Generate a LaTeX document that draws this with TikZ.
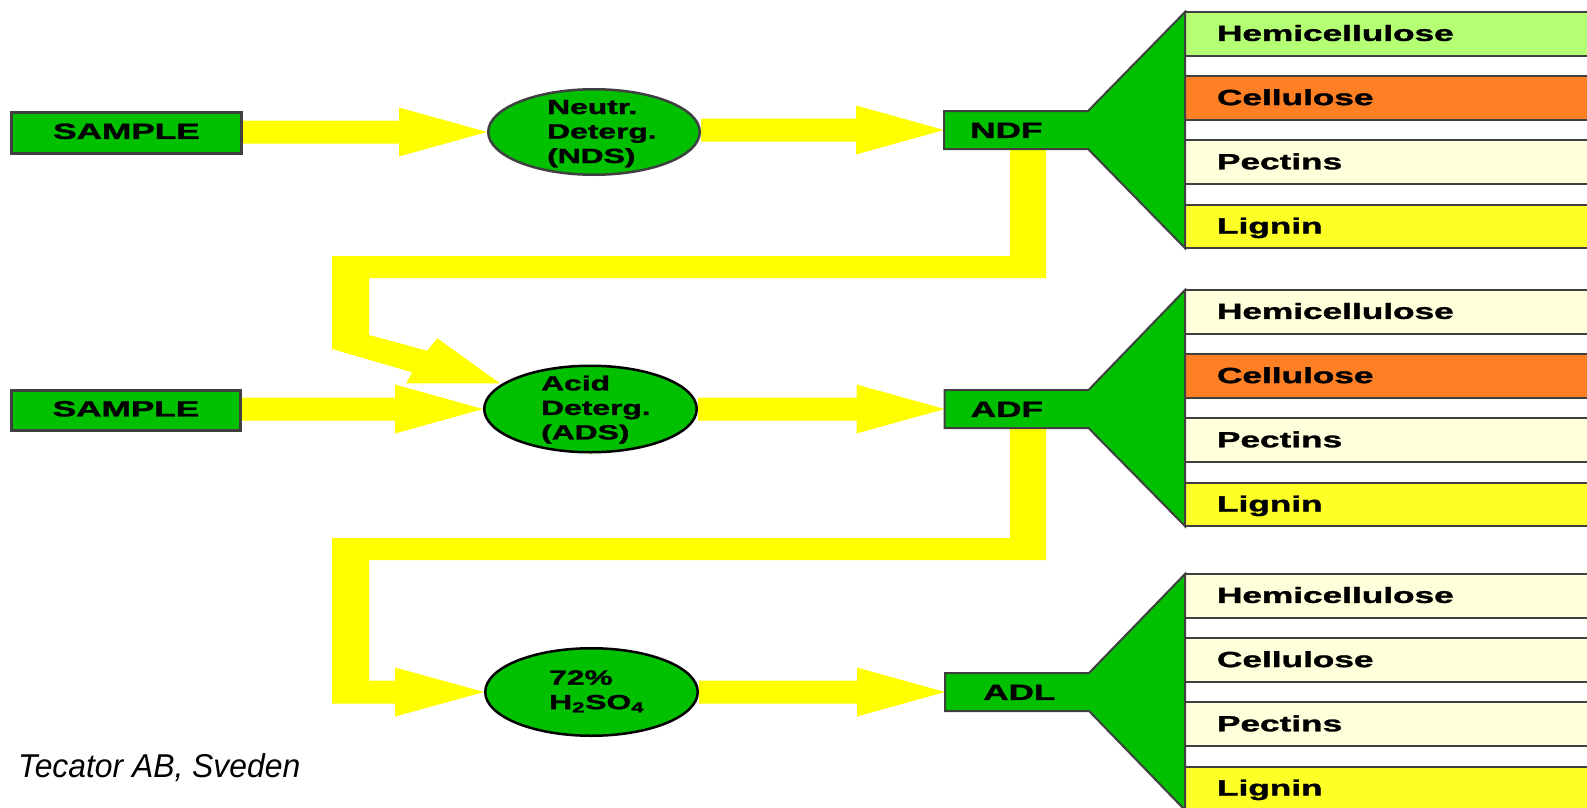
\documentclass[tikz,border=0pt]{standalone}
\usepackage{fontspec}
\setmainfont[BoldFeatures={FakeBold=1.2}]{Liberation Sans}
\usepackage{graphicx}
\usetikzlibrary{calc,shapes.geometric}

\definecolor{boxgreen}{RGB}{0,192,0}
\definecolor{flowyellow}{RGB}{255,255,0}
\definecolor{edgegray}{RGB}{64,64,64}
\definecolor{hemigreen}{RGB}{180,255,116}
\definecolor{cellorange}{RGB}{255,127,36}
\definecolor{paleyellow}{RGB}{255,255,220}
\definecolor{ligninyellow}{RGB}{255,255,40}

\pgfdeclarelayer{paper}
\pgfdeclarelayer{flow}
\pgfsetlayers{paper,flow,main}

% wide bold lettering used on boxes and bars
\newcommand{\lbl}[1]{\scalebox{1.6}[1]{#1}}
% left-aligned multi-line text inside the ovals
\newcommand{\etxt}[1]{\scalebox{1.55}[1]{\begin{tabular}{@{}l@{}}#1\end{tabular}}}
% horizontal block arrow from #1 to the tip #2
\newcommand{\flowarrow}[2]{%
  \fill[flow] let \p1=(#1), \p2=(#2) in
    (\x1,{\y2+11.5pt}) -- ({\x2-88pt},{\y2+11.5pt}) -- ({\x2-88pt},{\y2+24.5pt})
    -- (\x2,\y2) -- ({\x2-88pt},{\y2-24.5pt}) -- ({\x2-88pt},{\y2-11.5pt})
    -- (\x1,{\y2-11.5pt}) -- cycle;}

\tikzset{
  flow/.style={fill=flowyellow},
  greenbox/.style={rectangle, fill=boxgreen, draw=edgegray, line width=3pt,
    inner sep=0pt, font=\bfseries\fontsize{22}{26}\selectfont,
    text height=15.8pt, text depth=4pt},
  greenoval/.style={ellipse, fill=boxgreen, line width=2.5pt, inner sep=0pt},
  ovaltext/.style={anchor=west, inner sep=0pt,
    font=\bfseries\fontsize{20.5}{24.5}\selectfont},
  fraction/.style={rectangle, draw=edgegray, line width=2pt, outer sep=0pt,
    anchor=north west, minimum height=43.5pt, text width=380pt,
    inner xsep=32pt, inner ysep=0pt, align=left,
    font=\bfseries\fontsize{22}{26}\selectfont,
    text height=15.8pt, text depth=1.5pt},
  funnel/.style={fill=boxgreen, draw=edgegray, line width=2pt, line join=miter},
  hub/.style={rectangle, minimum width=144pt, minimum height=38pt,
    inner sep=0pt, outer sep=0pt},
  hublabel/.style={anchor=west, inner sep=0pt,
    font=\bfseries\fontsize{22}{26}\selectfont,
    text height=15.8pt, text depth=0pt},
}

\begin{document}
\begin{tikzpicture}[x=1pt,y=-1pt]
\path[use as bounding box] (0,0) rectangle (1587,807);
\clip (0,0) rectangle (1587,807);
\begin{pgfonlayer}{paper}
  \fill[white] (0,0) rectangle (1587,807);
\end{pgfonlayer}

% ---- input boxes and ovals
\node[greenbox, minimum width=230pt, minimum height=41pt] (s1) at (126.5,133) {\lbl{SAMPLE}};
\node[greenbox, minimum width=229pt, minimum height=40pt] (s2) at (126,410.5) {\lbl{SAMPLE}};

\node[greenoval, draw=edgegray, minimum width=211.5pt, minimum height=85.5pt] (e1) at (594,132) {};
\node[greenoval, draw=black, minimum width=212.5pt, minimum height=86.5pt] (e2) at (590.5,409) {};
\node[greenoval, draw=black, minimum width=212.5pt, minimum height=87.5pt] (e3) at (591.5,692) {};

\node[ovaltext] (t1) at (547,133.6) {\etxt{Neutr.\\Deterg.\\(NDS)}};
\node[ovaltext] (t2) at (541,410) {\etxt{Acid\\Deterg.\\(ADS)}};
\node[ovaltext] (t3) at (549,692) {\etxt{72\%\\H\textsubscript{2}SO\textsubscript{4}}};

% ---- fraction bars
\node[fraction, fill=hemigreen]    (h1) at (1185,12)    {\lbl{Hemicellulose}};
\node[fraction, fill=cellorange]   (c1) at (1185,76.2)  {\lbl{Cellulose}};
\node[fraction, fill=paleyellow]   (p1) at (1185,140.4) {\lbl{Pectins}};
\node[fraction, fill=ligninyellow] (l1) at (1185,204.6) {\lbl{Lignin}};

\node[fraction, fill=paleyellow]   (h2) at (1185,290)   {\lbl{Hemicellulose}};
\node[fraction, fill=cellorange]   (c2) at (1185,354.2) {\lbl{Cellulose}};
\node[fraction, fill=paleyellow]   (p2) at (1185,418.4) {\lbl{Pectins}};
\node[fraction, fill=ligninyellow] (l2) at (1185,482.6) {\lbl{Lignin}};

\node[fraction, fill=paleyellow]   (h3) at (1185,574)   {\lbl{Hemicellulose}};
\node[fraction, fill=paleyellow]   (c3) at (1185,638.2) {\lbl{Cellulose}};
\node[fraction, fill=paleyellow]   (p3) at (1185,702.4) {\lbl{Pectins}};
\node[fraction, fill=ligninyellow] (l3) at (1185,766.6) {\lbl{Lignin}};

% ---- residue boxes with their funnels
\node[hub] (ndf) at (1016,130) {};
\node[hub] (adf) at (1016.5,409) {};
\node[hub] (adl) at (1017,692) {};

\draw[funnel] (ndf.north west) -- (ndf.north east) -- (h1.north west)
  -- (l1.south west) -- (ndf.south east) -- (ndf.south west) -- cycle;
\draw[funnel] (adf.north west) -- (adf.north east) -- (h2.north west)
  -- (l2.south west) -- (adf.south east) -- (adf.south west) -- cycle;
\draw[funnel] (adl.north west) -- (adl.north east) -- (h3.north west)
  -- (l3.south west) -- (adl.south east) -- (adl.south west) -- cycle;

\node[hublabel] (ndft) at ($(ndf.west)+(26,0)$) {\lbl{NDF}};
\node[hublabel] (adft) at ($(adf.west)+(26,0)$) {\lbl{ADF}};
\node[hublabel] (adlt) at ($(adl.west)+(38,0)$) {\lbl{ADL}};

% ---- yellow flow arrows
\begin{pgfonlayer}{flow}
  \flowarrow{s1.east}{e1.west}
  \flowarrow{e1.east}{ndf.west}
  \flowarrow{s2.east}{e2.west}
  \flowarrow{e2.east}{adf.west}
  \flowarrow{e3.east}{adl.west}

  % NDF residue taken on to the acid detergent step
  \fill[flow] ($(ndf.south west)+(66,-2)$) -- ($(ndf.south west)+(102,-2)$)
    -- (1046,278) -- (369,278) -- (369,335) -- (427,350.7) -- (437.3,338.3)
    -- (500,383.3) -- (406,383.3) -- (412.3,372.3) -- (332,349)
    -- (332,256) -- (1010,256) -- cycle;

  % ADF residue taken on to the sulphuric acid step
  \fill[flow] ($(adf.south west)+(65.5,-2)$) -- ($(adf.south west)+(101.5,-2)$)
    -- (1046,560) -- (369,560) -- (369,680.5) -- ($(e3.west)+(-89,-11.5)$)
    -- ($(e3.west)+(-89,-24.5)$) -- (e3.west) -- ($(e3.west)+(-89,24.5)$)
    -- ($(e3.west)+(-89,11.5)$) -- (332,703.5) -- (332,538) -- (1010,538) -- cycle;
\end{pgfonlayer}

% ---- credit line
\node[anchor=base west, inner sep=0pt, font=\itshape\fontsize{33}{36}\selectfont]
  (credit) at (18,777) {\scalebox{0.965}[1]{Tecator AB, Sveden}};
\end{tikzpicture}
\end{document}
